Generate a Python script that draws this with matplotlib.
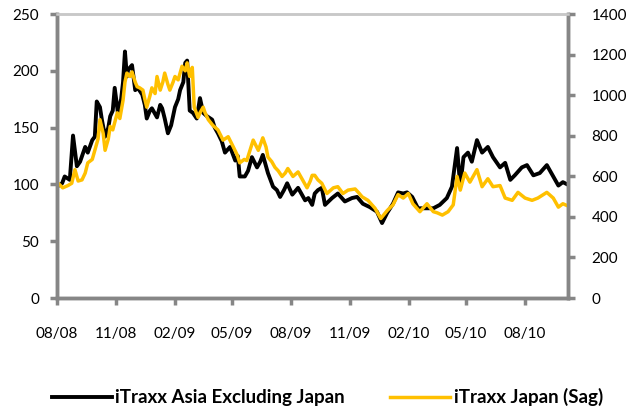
import pandas as pd
import matplotlib
matplotlib.use('Agg')
import matplotlib.pyplot as plt
import matplotlib.dates as mdates

plt.rcParams['font.family'] = ['Lato', 'DejaVu Sans']

start = pd.Timestamp('2008-08-01')

### iTraxx Asia ex Japan (linke Achse), Tage seit 01.08.2008 ###
asia_days = [0, 8, 12, 20, 25, 31, 36, 44, 48, 55, 59, 62, 67, 70, 75, 80, 83, 87, 90, 95,
             100, 103, 106, 109, 111, 117, 122, 126, 133, 137, 140, 145, 148, 153, 156, 161,
             164, 168, 173, 178, 184, 189, 192, 197, 200, 203, 207, 212, 218, 223, 228, 234,
             242, 246, 251, 257, 262, 270, 278, 282, 285, 293, 298, 304, 312, 317, 321, 329,
             337, 343, 348, 354, 359, 367, 376, 381, 387, 392, 398, 402, 407, 413, 418, 429,
             438, 449, 460, 468, 477, 488, 499, 507, 515, 524, 532, 540, 546, 554, 563, 574,
             587, 597, 608, 616, 624, 629, 634, 641, 647, 655, 663, 672, 680, 691, 699, 707,
             714, 725, 733, 743, 753, 764, 774, 782, 789, 796]
asia_vals = [98, 101, 107, 104, 143, 116, 120, 133, 128, 139, 142, 173, 168, 157, 142, 150, 160, 165, 185, 163,
             175, 190, 217, 195, 201, 205, 183, 185, 179, 170, 158, 165, 167, 162, 159, 170,
             167, 158, 145, 152, 168, 175, 183, 190, 207, 209, 165, 163, 158, 176, 163, 160,
             157, 150, 145, 138, 128, 133, 121, 125, 107, 107, 112, 124, 115, 120, 126, 110,
             98, 95, 89, 95, 101, 91, 97, 92, 86, 88, 82, 92, 95, 97, 82, 88,
             92, 85, 88, 89, 83, 80, 76, 66, 75, 83, 93, 92, 93, 89, 79, 79,
             79, 82, 88, 98, 132, 98, 124, 128, 120, 139, 128, 133, 124, 115, 119, 104,
             108, 115, 117, 108, 110, 117, 107, 99, 102, 100]

### iTraxx Japan (Sag) ###
japan_days = [0, 9, 17, 23, 28, 33, 39, 44, 48, 55, 59, 64, 67, 72, 75, 80, 83, 87, 94, 98,
              103, 106, 109, 114, 117, 122, 125, 129, 134, 137, 140, 145, 148, 153, 156, 161,
              165, 168, 173, 176, 181, 184, 189, 195, 200, 203, 207, 211, 214, 220, 223, 228,
              231, 236, 243, 251, 259, 267, 275, 281, 285, 292, 296, 301, 306, 314, 321, 326,
              329, 335, 340, 345, 351, 356, 360, 368, 376, 384, 390, 395, 398, 402, 407, 413,
              421, 431, 438, 446, 454, 465, 470, 476, 485, 496, 501, 505, 515, 524, 532, 540,
              548, 555, 566, 577, 587, 593, 601, 610, 618, 624, 629, 636, 644, 655, 663, 672,
              680, 691, 699, 710, 719, 730, 741, 750, 764, 774, 782, 789, 797]
japan_vals = [102, 97, 99, 101, 113, 103, 104, 110, 119, 122, 130, 140, 157, 145, 130, 140, 151, 148, 163, 158,
              174, 190, 198, 195, 199, 190, 186, 185, 183, 175, 168, 178, 185, 180, 195, 183,
              190, 198, 188, 183, 190, 195, 192, 204, 200, 207, 195, 203, 168, 159, 163, 168,
              163, 157, 152, 148, 139, 142, 133, 126, 119, 122, 121, 130, 139, 130, 141, 133,
              124, 120, 115, 112, 107, 110, 114, 107, 111, 103, 97, 103, 108, 108, 104, 101,
              92, 97, 98, 92, 95, 96, 93, 89, 86, 79, 74, 70, 77, 82, 91, 88,
              92, 83, 76, 83, 76, 75, 73, 76, 82, 107, 95, 110, 102, 113, 98, 105,
              98, 99, 88, 86, 93, 88, 86, 88, 93, 88, 80, 83, 81]

labels = ['iTraxx Asia Excluding Japan', 'iTraxx Japan (Sag)']

asia_dates = start + pd.to_timedelta(asia_days, unit='D')
japan_dates = start + pd.to_timedelta(japan_days, unit='D')

grey = '#868686'

fig = plt.figure(figsize=(6.27, 4.18), dpi=100)
ax = fig.add_axes([0.0909, 0.287, 0.815, 0.6795])

ax.plot(asia_dates, asia_vals, color='black', lw=2.8, label=labels[0], zorder=2)
ax.plot(japan_dates, japan_vals, color='#FFC000', lw=2.5, label=labels[1], zorder=3)

ax.set_ylim(0, 250)
ax.set_yticks(range(0, 251, 50))
ax.set_xlim(start, start + pd.Timedelta(days=797))
ax.xaxis.set_major_locator(mdates.MonthLocator(bymonth=[2, 5, 8, 11]))
ax.xaxis.set_major_formatter(mdates.DateFormatter('%m/%y'))

ax2 = ax.twinx()
ax2.set_ylim(0, 1400)
ax2.set_yticks(range(0, 1401, 200))

for a in (ax, ax2):
    for s in ('left', 'right', 'bottom'):
        a.spines[s].set_color(grey)
        a.spines[s].set_linewidth(2.5)
    a.spines['top'].set_color('#c8c8c8')
    a.spines['top'].set_linewidth(1.8)
    a.tick_params(axis='both', colors=grey, width=2.5, length=5, labelcolor='black', labelsize=11)

ax.tick_params(axis='x', pad=16)
ax.tick_params(axis='y', pad=8)
ax2.tick_params(axis='y', pad=12)

fig.legend(handles=ax.get_lines(), labels=labels, loc='lower center', bbox_to_anchor=(0.522, -0.012),
           ncol=2, frameon=False, handlelength=3.2, handletextpad=0.2, columnspacing=2.4,
           prop={'weight': 'bold', 'size': 13.5})

fig.savefig('out.png', dpi=100)
